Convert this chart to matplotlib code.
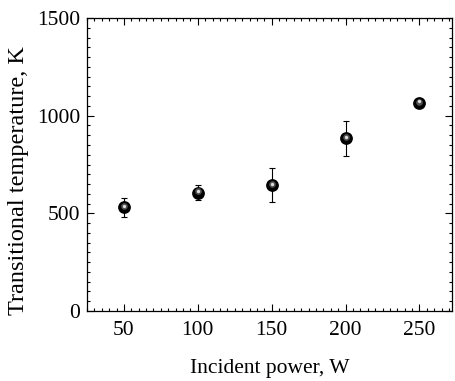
import matplotlib
matplotlib.use("Agg")
import matplotlib.pyplot as plt
from matplotlib.ticker import MultipleLocator

power = [50, 100, 150, 200, 250]
temperature = [530, 606, 643, 884, 1065]
temp_err = [50, 40, 87, 90, 8]

plt.rcParams['font.family'] = ['Liberation Serif', 'DejaVu Serif']

fig = plt.figure(figsize=(4.55, 3.81), dpi=100)
ax = fig.add_axes([87 / 455, 1 - 311 / 381, 365 / 455, 293 / 381])

ax.errorbar(power, temperature, yerr=temp_err, fmt='none', ecolor='black',
            elinewidth=0.8, capsize=2.5, capthick=0.8, zorder=2)
# sphere-like markers: dark body plus a light highlight
ax.plot(power, temperature, 'o', color='black', markersize=9.2, markeredgewidth=0, zorder=3)
ax.plot(power, [t + 7 for t in temperature], 'o', color='#505050', markersize=4.8,
        markeredgewidth=0, zorder=4)
ax.plot(power, [t + 9 for t in temperature], 'o', color='#dcdcdc', markersize=2.4,
        markeredgewidth=0, zorder=5)

ax.set_xlim(25, 272)
ax.set_ylim(0, 1500)
ax.xaxis.set_major_locator(MultipleLocator(50))
ax.xaxis.set_minor_locator(MultipleLocator(5))
ax.yaxis.set_major_locator(MultipleLocator(500))
ax.yaxis.set_minor_locator(MultipleLocator(50))
ax.tick_params(which='both', direction='in', top=True, right=True, labelsize=15.5, width=0.8)
ax.tick_params(which='major', length=5)
ax.tick_params(which='minor', length=2.5)
ax.tick_params(axis='x', pad=7)
ax.tick_params(axis='y', pad=5)
for sp in ax.spines.values():
    sp.set_linewidth(0.9)

ax.set_xlabel('Incident power, W', fontsize=15.5)
ax.set_ylabel('Transitional temperature, K', fontsize=17.5)
ax.xaxis.set_label_coords(0.5, -0.163)
ax.yaxis.set_label_coords(-0.16, 0.445)

fig.savefig('out.png', dpi=100)
